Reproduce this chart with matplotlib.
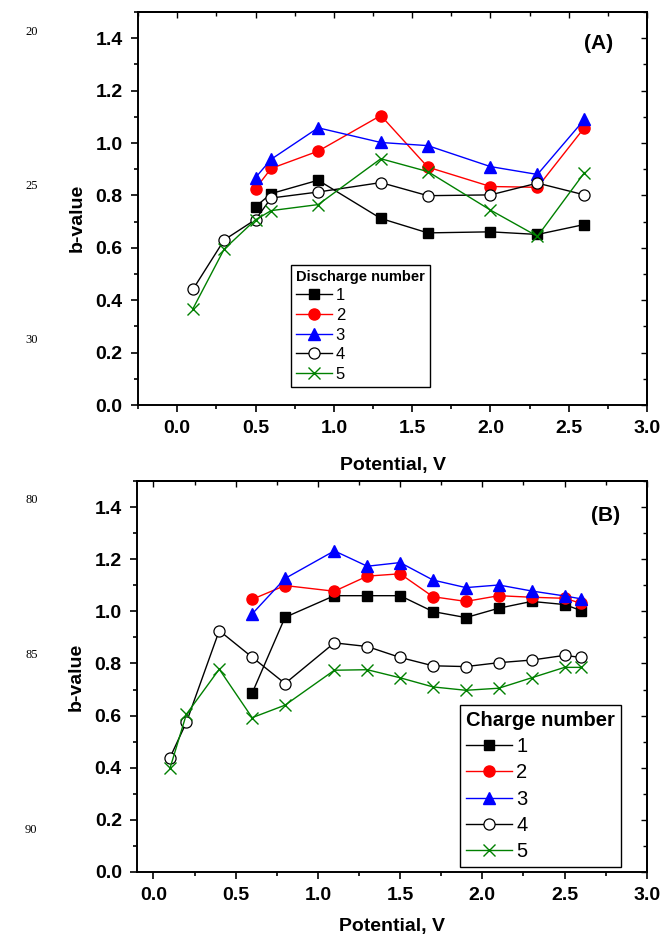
import matplotlib
matplotlib.use("Agg")
import matplotlib.pyplot as plt
from matplotlib.ticker import MultipleLocator
from matplotlib import font_manager

# ---------------- data ----------------
# Panel A (discharge)
xA_123 = [0.5, 0.6, 0.9, 1.3, 1.6, 2.0, 2.3, 2.6]
xA_45 = [0.1, 0.3, 0.5, 0.6, 0.9, 1.3, 1.6, 2.0, 2.3, 2.6]
A1 = [0.757, 0.807, 0.858, 0.712, 0.657, 0.661, 0.651, 0.689]
A2 = [0.826, 0.903, 0.969, 1.105, 0.908, 0.834, 0.831, 1.059]
A3 = [0.868, 0.938, 1.058, 1.002, 0.990, 0.910, 0.880, 1.090]
A4 = [0.441, 0.630, 0.708, 0.790, 0.813, 0.849, 0.799, 0.802, 0.847, 0.802]
A5 = [0.367, 0.595, 0.707, 0.742, 0.765, 0.940, 0.891, 0.744, 0.644, 0.887]

# Panel B (charge)
xB_123 = [0.6, 0.8, 1.1, 1.3, 1.5, 1.7, 1.9, 2.1, 2.3, 2.5, 2.6]
xB_45 = [0.1, 0.2, 0.4, 0.6, 0.8, 1.1, 1.3, 1.5, 1.7, 1.9, 2.1, 2.3, 2.5, 2.6]
B1 = [0.686, 0.977, 1.060, 1.060, 1.060, 0.999, 0.976, 1.012, 1.038, 1.026, 1.003]
B2 = [1.046, 1.099, 1.077, 1.135, 1.144, 1.056, 1.038, 1.060, 1.054, 1.050, 1.031]
B3 = [0.990, 1.126, 1.232, 1.173, 1.187, 1.120, 1.091, 1.101, 1.078, 1.059, 1.048]
B4 = [0.438, 0.574, 0.926, 0.824, 0.723, 0.879, 0.865, 0.823, 0.791, 0.788, 0.803, 0.813, 0.831, 0.823]
B5 = [0.397, 0.605, 0.778, 0.592, 0.640, 0.774, 0.776, 0.745, 0.710, 0.697, 0.705, 0.745, 0.785, 0.785]

labels = ["1", "2", "3", "4", "5"]
xticks = [0.0, 0.5, 1.0, 1.5, 2.0, 2.5, 3.0]
yticks = [0.0, 0.2, 0.4, 0.6, 0.8, 1.0, 1.2, 1.4]
line_numbers_A = ["20", "25", "30"]
line_numbers_B = ["80", "85", "90"]

# ---------------- style ----------------
avail = {f.name for f in font_manager.fontManager.ttflist}
narrow = "Liberation Sans Narrow" if "Liberation Sans Narrow" in avail else "Liberation Sans"
FAM = [narrow, "DejaVu Sans"]
plt.rcParams['font.family'] = FAM

styles = [
    dict(color="black", marker="s", mfc="black", mec="black", ms=7),
    dict(color="red", marker="o", mfc="red", mec="red", ms=8),
    dict(color="blue", marker="^", mfc="blue", mec="blue", ms=8.5),
    dict(color="black", marker="o", mfc="white", mec="black", ms=8, mew=0.9),
    dict(color="green", marker="x", mfc="green", mec="green", ms=8, mew=1.0),
]

fig = plt.figure(figsize=(6.62, 9.38), dpi=100)
axA = fig.add_axes([0.2085, 0.5682, 0.769, 0.419])
axB = fig.add_axes([0.207, 0.0704, 0.770, 0.4168])


def style_axes(ax, xmin, xlabelpad):
    ax.set_xlim(xmin, 3.0)
    ax.set_ylim(0, 1.5)
    ax.set_xticks(xticks)
    ax.set_yticks(yticks)
    ax.xaxis.set_minor_locator(MultipleLocator(0.25))
    ax.yaxis.set_minor_locator(MultipleLocator(0.1))
    ax.tick_params(which="both", direction="out", top=False, right=False, width=1.2)
    ax.tick_params(which="major", length=5, labelsize=14, pad=6)
    ax.tick_params(which="minor", length=3)
    for lab in ax.get_xticklabels() + ax.get_yticklabels():
        lab.set_fontweight("bold")
    for s in ax.spines.values():
        s.set_linewidth(1.4)
    # inward mirror ticks on top/right
    sec = ax.secondary_xaxis("top")
    sec.set_xticks(xticks)
    sec.xaxis.set_minor_locator(MultipleLocator(0.25))
    sec.tick_params(which="both", direction="in", labeltop=False, width=1.0)
    sec.tick_params(which="major", length=4)
    sec.tick_params(which="minor", length=3)
    sec.spines["top"].set_linewidth(1.4)
    secy = ax.secondary_yaxis("right")
    secy.set_yticks(yticks)
    secy.yaxis.set_minor_locator(MultipleLocator(0.1))
    secy.tick_params(which="both", direction="in", labelright=False, width=1.0)
    secy.tick_params(which="major", length=4)
    secy.tick_params(which="minor", length=3)
    secy.spines["right"].set_linewidth(1.4)
    ax.set_xlabel("Potential, V", fontsize=14, fontweight="bold", labelpad=xlabelpad)
    ax.set_ylabel("b-value", fontsize=14, fontweight="bold")


# Panel A
seriesA = [(xA_123, A1), (xA_123, A2), (xA_123, A3), (xA_45, A4), (xA_45, A5)]
for (x, y), st, lab in zip(seriesA, styles, labels):
    axA.plot(x, y, lw=1.0, label=lab, **st)
style_axes(axA, -0.25, 14)
axA.yaxis.set_label_coords(-0.102, 0.475)
axA.text(0.904, 0.921, "(A)", transform=axA.transAxes, fontsize=15,
         fontweight="bold", ha="center", va="center")
legA = axA.legend(title="Discharge number", loc="lower left",
                  bbox_to_anchor=(0.30, 0.046), fontsize=12,
                  title_fontproperties={"weight": "bold", "size": 10.5, "family": FAM},
                  frameon=True, fancybox=False, framealpha=1, edgecolor="black",
                  handlelength=2.2, handletextpad=0.2, labelspacing=0.28,
                  borderpad=0.3, alignment="left", borderaxespad=0)
legA.get_frame().set_linewidth(1.0)

# Panel B
seriesB = [(xB_123, B1), (xB_123, B2), (xB_123, B3), (xB_45, B4), (xB_45, B5)]
for (x, y), st, lab in zip(seriesB, styles, labels):
    axB.plot(x, y, lw=1.0, label=lab, **st)
style_axes(axB, -0.1, 10)
axB.yaxis.set_label_coords(-0.102, 0.5)
axB.text(0.92, 0.913, "(B)", transform=axB.transAxes, fontsize=15,
         fontweight="bold", ha="center", va="center")
legB = axB.legend(title="Charge number", loc="lower left",
                  bbox_to_anchor=(0.633, 0.012), fontsize=14.5,
                  title_fontproperties={"weight": "bold", "size": 14.5, "family": FAM},
                  frameon=True, fancybox=False, framealpha=1, edgecolor="black",
                  handlelength=2.3, handletextpad=0.2, labelspacing=0.36,
                  borderpad=0.3, alignment="left", borderaxespad=0)
legB.get_frame().set_linewidth(1.0)

# line numbers in margin
serif = ["Liberation Serif", "DejaVu Serif"]
for t, yy in zip(line_numbers_A + line_numbers_B, [32, 186, 340, 500, 655, 830]):
    fig.text(25 / 662, 1 - yy / 938, t, fontsize=9, family=serif, va="center")

fig.savefig("out.png", dpi=100)
